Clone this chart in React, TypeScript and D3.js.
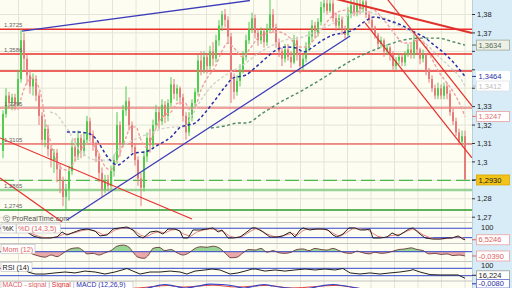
import React from 'react';
import * as d3 from 'd3';

// ---------- DATA ----------
const firstOpen = 1.306;
const closes = [
  1.326,1.336,1.332,1.335,1.331,1.345,1.366,1.356,1.347,1.341,
  1.345,1.336,1.325,1.312,1.318,1.307,1.301,1.305,1.296,1.290,
  1.281,1.285,1.295,1.308,1.303,1.313,1.306,1.312,1.322,1.315,
  1.309,1.303,1.294,1.285,1.290,1.287,1.295,1.301,1.320,1.310,
  1.328,1.333,1.320,1.308,1.301,1.291,1.286,1.303,1.313,1.309,
  1.320,1.327,1.322,1.331,1.325,1.332,1.342,1.337,1.340,1.335,
  1.325,1.316,1.324,1.332,1.338,1.355,1.350,1.357,1.352,1.360,
  1.356,1.366,1.374,1.380,1.377,1.368,1.345,1.338,1.344,1.350,
  1.357,1.366,1.372,1.378,1.370,1.366,1.371,1.365,1.372,1.380,
  1.373,1.365,1.360,1.356,1.361,1.357,1.354,1.366,1.358,1.352,
  1.356,1.362,1.368,1.374,1.370,1.376,1.384,1.386,1.382,1.386,
  1.378,1.374,1.378,1.372,1.369,1.380,1.385,1.381,1.386,1.383,
  1.387,1.380,1.377,1.373,1.369,1.364,1.366,1.360,1.362,1.358,
  1.352,1.355,1.357,1.354,1.358,1.361,1.358,1.366,1.361,1.356,
  1.358,1.350,1.345,1.340,1.336,1.340,1.336,1.341,1.337,1.327,
  1.322,1.316,1.311,1.314,1.2905
];
const highs = [
  1.328,1.340,1.338,1.337,1.337,1.350,1.372,1.370,1.358,1.350,
  1.348,1.347,1.338,1.327,1.322,1.320,1.309,1.307,1.307,1.299,
  1.292,1.288,1.298,1.312,1.313,1.317,1.315,1.316,1.325,1.324,
  1.317,1.311,1.305,1.297,1.293,1.293,1.298,1.304,1.327,1.322,
  1.331,1.341,1.335,1.322,1.310,1.303,1.294,1.306,1.316,1.318,
  1.323,1.331,1.330,1.334,1.333,1.334,1.346,1.345,1.342,1.341,
  1.337,1.327,1.327,1.334,1.340,1.358,1.360,1.360,1.359,1.363,
  1.365,1.369,1.377,1.382,1.383,1.379,1.370,1.348,1.347,1.353,
  1.360,1.369,1.376,1.381,1.380,1.372,1.373,1.372,1.375,1.388,
  1.383,1.375,1.367,1.362,1.364,1.364,1.360,1.369,1.368,1.360,
  1.358,1.365,1.371,1.377,1.376,1.378,1.387,1.389,1.389,1.389,
  1.388,1.381,1.380,1.379,1.374,1.384,1.388,1.388,1.388,1.388,
  1.389,1.388,1.382,1.378,1.374,1.370,1.368,1.367,1.364,1.363,
  1.360,1.357,1.359,1.359,1.360,1.364,1.364,1.371,1.368,1.362,
  1.361,1.359,1.351,1.347,1.342,1.343,1.342,1.343,1.343,1.339,
  1.329,1.324,1.318,1.317,1.317
];
const lows = [
  1.302,1.324,1.329,1.328,1.328,1.330,1.343,1.350,1.342,1.337,
  1.336,1.333,1.320,1.309,1.308,1.303,1.297,1.294,1.289,1.283,
  1.276,1.274,1.279,1.293,1.300,1.301,1.302,1.303,1.310,1.311,
  1.306,1.300,1.289,1.281,1.283,1.284,1.285,1.292,1.299,1.303,
  1.308,1.325,1.317,1.305,1.298,1.287,1.276,1.284,1.300,1.305,
  1.307,1.318,1.318,1.320,1.321,1.322,1.330,1.334,1.333,1.331,
  1.322,1.312,1.314,1.322,1.330,1.336,1.347,1.348,1.348,1.350,
  1.352,1.354,1.363,1.371,1.373,1.364,1.332,1.334,1.336,1.341,
  1.348,1.355,1.364,1.370,1.367,1.363,1.364,1.362,1.363,1.370,
  1.370,1.362,1.357,1.352,1.354,1.355,1.351,1.353,1.355,1.348,
  1.350,1.354,1.360,1.365,1.367,1.368,1.374,1.381,1.380,1.381,
  1.376,1.371,1.372,1.369,1.367,1.368,1.378,1.379,1.379,1.380,
  1.381,1.378,1.375,1.371,1.367,1.361,1.362,1.357,1.358,1.355,
  1.350,1.350,1.353,1.352,1.352,1.357,1.356,1.356,1.359,1.353,
  1.354,1.347,1.343,1.338,1.334,1.334,1.334,1.334,1.334,1.325,
  1.320,1.314,1.309,1.309,1.2902
];

// moving averages: [bar index, price]
const maPink = [
  [5,1.3282],[7.3,1.3407],[9.7,1.3455],[11.3,1.3428],[13,1.3336],[14,1.3228],[15.7,1.3119],
  [17.3,1.3027],[19,1.2973],[21.3,1.2956],[24.7,1.3027],[26.7,1.3081],[29,1.3103],[31.3,1.3065],
  [33.3,1.2994],[35.7,1.2956],[38,1.3010],[40.7,1.3119],[42.7,1.3190],[44.3,1.3190],[46,1.3119],
  [47.7,1.3081],[49.3,1.3119],[51.7,1.3211],[54,1.3255],[56,1.3271],[58.3,1.3320],[60.7,1.3320],
  [62.3,1.3282],[64,1.3298],[66,1.3390],[68.3,1.3461],[70.7,1.3515],[72.7,1.3591],[75,1.3645],
  [76.7,1.3624],[80,1.3569],[82,1.3607],[85.3,1.3678],[88.7,1.3700],[92,1.3705],[95.3,1.3678],
  [98.7,1.3624],[101,1.3624],[104.3,1.3678],[107.7,1.3754],[111,1.3808],[114.3,1.3824],
  [117.7,1.3808],[120.3,1.3841],[123.7,1.3824],[127,1.3770],[130.3,1.3700],[133.7,1.3645],
  [136,1.3645],[138,1.3662],[140.3,1.3645],[142.7,1.3569],[145.3,1.3488],[148,1.3428],
  [150.3,1.3374],[152.7,1.3298],[154,1.3247]
];
const maGrey = [
  [15.7,1.3271],[18,1.3255],[20,1.3211],[21.7,1.3173],[24.7,1.3081],[27.3,1.3038],[31.3,1.3010],
  [35.7,1.3010],[38.3,1.3065],[41.7,1.3103],[45,1.3130],[49.3,1.3157],[54,1.3184],[58.3,1.3190],
  [60.7,1.3190],[62.7,1.3244],[66,1.3336],[69.3,1.3407],[72.7,1.3455],[76,1.3488],[78.3,1.3510],
  [81,1.3537],[84.3,1.3580],[88.7,1.3624],[94.3,1.3662],[100,1.3678],[105.3,1.3716],[111,1.3759],
  [115.3,1.3797],[117,1.3808],[121.3,1.3814],[127,1.3781],[131.3,1.3743],[136,1.3705],
  [140.3,1.3651],[144.7,1.3580],[149.3,1.3510],[152.7,1.3450],[154,1.3412]
];
const maBlue = [
  [21.3,1.3162],[24.7,1.3162],[28,1.3157],[31.3,1.3119],[33.3,1.3065],[35.7,1.3010],[38.3,1.2983],
  [40.7,1.3010],[44,1.3049],[47.3,1.3054],[51.7,1.3092],[56,1.3135],[59.3,1.3190],[61.7,1.3200],
  [64,1.3211],[67.3,1.3266],[70.7,1.3336],[74,1.3407],[76.7,1.3455],[81,1.3472],[84.3,1.3515],
  [87.7,1.3564],[91,1.3607],[94.3,1.3624],[97.7,1.3618],[100.3,1.3597],[103.3,1.3624],
  [106.7,1.3662],[110,1.3689],[113.3,1.3700],[116.7,1.3716],[120.3,1.3759],[123.7,1.3786],
  [128,1.3770],[132.7,1.3743],[137,1.3705],[140.3,1.3678],[143.7,1.3634],[147,1.3591],
  [150.3,1.3537],[154,1.3464]
];
const maGreen = [
  [69.3,1.3184],[74,1.3195],[78.3,1.3211],[81,1.3211],[86.7,1.3266],[92,1.3320],[100,1.3390],
  [106.7,1.3455],[112,1.3510],[117.7,1.3564],[121.3,1.3591],[128,1.3634],[133.7,1.3662],
  [139.3,1.3672],[144.7,1.3672],[150.3,1.3651],[154,1.3634]
];

// drawn trend lines: [index, price] -> [index, price]
const trendLines = [
  { a: [6.3, 1.3710], b: [82.3, 1.3876], color: '#3d3db8', w: 1.3 },
  { a: [21.3, 1.2685], b: [115.7, 1.3683], color: '#3d3db8', w: 1.3 },
  { a: [-1, 1.3130], b: [63, 1.2690], color: '#e8302c', w: 1.2 },
  { a: [-1, 1.2913], b: [19.7, 1.2674], color: '#e8302c', w: 1.2 },
  { a: [99, 1.3933], b: [156.3, 1.3700], color: '#e0302c', w: 2 },
  { a: [125.7, 1.3933], b: [156.3, 1.3304], color: '#e8302c', w: 1.2 },
  { a: [120.7, 1.3754], b: [156.3, 1.3022], color: '#e8302c', w: 1.2 },
];

const levelPrices = [1.3720, 1.3586, 1.3493, 1.3293, 1.3097, 1.2900, 1.2848, 1.2739];
const levelLabels = ['1,3725', '1,3586', '', '1,3295', '1,3105', '', '1,2865', '1,2745'];
const levelStyles = [
  { c: '#e8302c', w: 1.4, o: 1, d: '' },
  { c: '#e8302c', w: 1.4, o: 1, d: '' },
  { c: '#e8302c', w: 1.4, o: 1, d: '' },
  { c: '#e8585a', w: 2.2, o: 0.55, d: '' },
  { c: '#e8302c', w: 1.1, o: 1, d: '' },
  { c: '#4cb84c', w: 1.3, o: 1, d: '14 5' },
  { c: '#7fc87f', w: 2.6, o: 0.8, d: '' },
  { c: '#2a9a2a', w: 1.4, o: 1, d: '' },
];

const priceTicks = [1.27, 1.28, 1.29, 1.30, 1.31, 1.32, 1.33, 1.34, 1.35, 1.36, 1.37, 1.38];
const priceTickLabels = ['1,27', '1,28', '1,29', '1,3', '1,31', '1,32', '1,33', '1,34', '1,35', '1,36', '1,37', '1,38'];

const valueBoxes = [
  { v: 1.3634, text: '1,3634', fg: '#4f6b55', bg: '#eef0e6', border: '#9aa89a' },
  { v: 1.3464, text: '1,3464', fg: '#2b2fa8', bg: '#ffffff', border: '#ffffff' },
  { v: 1.3412, text: '1,3412', fg: '#bdbdbd', bg: '#ffffff', border: '#e0e0e0' },
  { v: 1.3247, text: '1,3247', fg: '#e07070', bg: '#ffffff', border: '#e9a0a0' },
  { v: 1.2902, text: '1,2930', fg: '#222222', bg: '#f2c318', border: '#d9a800' },
];

// stochastic %K and %D: [index, value]
const stochK = [
  [8,56],[10,31],[12.3,18],[15.7,18],[18,24],[19.7,56],[21.3,37],[23,50],[25.7,69],[28,75],
  [30.7,62],[32.3,31],[34.7,37],[36.7,75],[39,82],[41.3,88],[43.3,69],[45,31],[46.7,18],[49,56],
  [51.3,62],[53.3,43],[55,75],[57.3,75],[59,62],[60,18],[61.7,18],[63.3,69],[65.7,69],[68,75],
  [70,82],[71.7,56],[73,69],[75,18],[76.7,18],[79,24],[81.3,56],[83,82],[84.3,82],[86.7,56],
  [89,24],[91.3,24],[93.3,31],[95.7,56],[97.3,24],[99,69],[100,82],[102.3,69],[104.3,75],
  [106.7,75],[108.3,69],[110,37],[111.3,24],[113.3,43],[115.3,82],[117.3,82],[119,69],
  [120.7,69],[122.3,75],[123.3,18],[125.7,18],[128,24],[129.7,50],[131.7,31],[133.3,50],
  [135.3,75],[136.7,82],[139,43],[140.7,18],[143.3,11],[145.7,11],[148,18],[149.7,18],
  [151.7,31],[153.3,11],[154,6.5]
];
const stochD = [
  [9,50],[11,35],[13,22],[16,19],[18.5,28],[20.5,45],[22,42],[24,52],[26.5,66],[29,72],
  [31.5,56],[33.5,38],[35.5,46],[37.5,70],[40,82],[42,84],[44,62],[46,35],[47.7,25],[50,48],
  [52,58],[54,50],[56,68],[58,73],[60,45],[62.5,28],[64.5,55],[67,70],[69,76],[71,72],
  [73.5,58],[75.5,30],[77.5,20],[80,30],[82,55],[84,76],[85.5,74],[87.5,48],[90,28],[92,26],
  [94,36],[96.5,48],[98,34],[100,65],[101.5,76],[103.5,72],[105.5,74],[107.5,72],[109,60],
  [111,38],[112.5,30],[114.5,52],[116.5,76],[118.5,78],[120,72],[121.5,71],[123.5,45],[125,28],
  [127,20],[129,32],[131,38],[132.5,42],[134.5,60],[136.5,75],[138,65],[140,38],[142,22],
  [144,14],[146.5,12],[149,16],[151,24],[152.5,24],[154,12]
];
const momentum = [
  [9.7,-0.02],[12,-0.04],[14,-0.05],[16,-0.03],[18,-0.045],[19.7,-0.02],[21.3,0.01],[23,0.03],
  [25,0.035],[26.7,0.01],[28,-0.02],[30,-0.015],[32,-0.03],[34,-0.01],[36,0.01],[38,0.05],
  [40,0.06],[42,0.04],[43.5,-0.01],[45,-0.05],[47,-0.06],[48.5,-0.03],[50,0.03],[52,0.04],
  [54,0.01],[56,0.02],[58,-0.01],[60,-0.03],[62,-0.01],[64,0.03],[66,0.045],[68,0.04],
  [70,0.05],[72,0.035],[74,-0.01],[76,-0.055],[78,-0.05],[80,-0.01],[82,0.02],[84,0.015],
  [86,0.03],[88,-0.005],[90,0.01],[92,-0.01],[94,-0.015],[96,-0.005],[98,0.02],[100,0.025],
  [102,0.01],[104,0.03],[106,0.02],[108,0.015],[110,0.03],[112,0.01],[114,-0.01],[116,-0.015],
  [118,0.005],[120,-0.01],[122,-0.02],[124,-0.005],[126,-0.015],[128,-0.01],[130,0.005],
  [132,0.02],[134,0.025],[136,0.035],[138,0.02],[140,0.01],[142,-0.02],[144,-0.015],
  [146,-0.025],[148,-0.02],[150,-0.035],[152,-0.03],[154,-0.039]
];
const rsi = [
  [8.3,50],[10.7,39],[14,39],[17.3,45],[20.7,50],[24,45],[27.3,55],[30.7,50],[34,39],[37.3,50],
  [39.7,61],[41.3,69],[43.3,55],[45.7,39],[49,50],[52.3,50],[55.7,55],[59,50],[61.3,39],[64,55],
  [67.3,61],[69.7,66],[72.3,61],[75.7,39],[78.3,45],[80.7,55],[83,66],[84.3,66],[87.3,55],
  [90.7,61],[94,55],[97.3,61],[100.7,66],[104,61],[107.3,66],[110.7,61],[113.3,69],[115.7,45],
  [119,39],[122.3,45],[125.7,39],[129,45],[132.3,50],[135.7,58],[136.7,63],[139,50],[142.3,36],
  [145.7,34],[149,34],[151.7,34],[154,16.2]
];
const macd = [
  [20,0.002],[30,0.003],[40,0.004],[46,0.003],[51,0.006],[54,0.0075],[57,0.006],[61,0.004],
  [65,0.006],[69,0.0078],[73,0.0075],[77,0.006],[80,0.004],[84,0.006],[87,0.0075],[90,0.006],
  [95,0.004],[100,0.003],[106,0.006],[110,0.0075],[114,0.006],[118,0.004],[125,0.0],
  [135,-0.004],[145,-0.007],[154,-0.008]
];
const macdSignal = [
  [22,0.002],[45,0.004],[55,0.0065],[60,0.005],[70,0.0068],[78,0.005],[88,0.0066],[96,0.004],
  [111,0.0066],[120,0.003],[140,-0.004],[154,-0.007]
];

// ---------- LAYOUT ----------
const W = 512, H = 288, PR = 472, MB = 222;
const x = d3.scaleLinear().domain([0, closes.length - 1]).range([3, 465]);
const y = d3.scaleLinear().domain([1.27, 1.38]).range([217.2, 14.5]);
const yK = d3.scaleLinear().domain([0, 100]).range([240.8, 225.1]);
const yM = d3.scaleLinear().domain([-0.06, 0.06]).range([258.3, 245.1]);
const yR = d3.scaleLinear().domain([30, 70]).range([275.7, 268.3]);
const yC = d3.scaleLinear().domain([0, 0.01]).range([292, 282]);
const gridX = d3.range(20).map(k => 18.5 + 23.5 * k);
const FONT = 'Liberation Sans, Arial, sans-serif';

export default function App() {
  const opens = closes.map((c, i) => (i === 0 ? firstOpen : closes[i - 1]));
  const mk = (ys: any) => d3.line<any>().x(d => x(d[0])).y(d => ys(d[1])).curve(d3.curveMonotoneX);
  const lin = (ys: any) => d3.line<any>().x(d => x(d[0])).y(d => ys(d[1]));
  const momArea = d3.area<any>().x(d => x(d[0])).y0(yM(0)).y1(d => yM(d[1])).curve(d3.curveMonotoneX);
  const boxYs = valueBoxes.map(b => y(b.v));

  const box = (yy: number, text: string, fg: string, bg: string, border: string, key: string, h = 10) => (
    <g key={key}>
      <line x1={PR} x2={476} y1={yy} y2={yy} stroke={fg} strokeWidth={1} />
      <rect x={476.5} y={yy - h / 2} width={33} height={h} fill={bg} stroke={border} strokeWidth={0.8} />
      <text x={478.5} y={yy + 2.6} fontSize={7.5} fill={fg} fontFamily={FONT}>{text}</text>
    </g>
  );

  return (
    <svg width={W} height={H} style={{ position: 'fixed', left: 0, top: 0, background: '#fdfdf2' }}>
      <defs>
        <clipPath id="cm"><rect x={0} y={0} width={PR} height={MB} /></clipPath>
        <clipPath id="ck"><rect x={0} y={223} width={PR} height={20} /></clipPath>
        <clipPath id="cmo"><rect x={0} y={244} width={PR} height={17} /></clipPath>
        <clipPath id="cmoUp"><rect x={0} y={244} width={PR} height={yM(0) - 244} /></clipPath>
        <clipPath id="cmoDn"><rect x={0} y={yM(0)} width={PR} height={261 - yM(0)} /></clipPath>
        <clipPath id="cr"><rect x={0} y={262} width={PR} height={18} /></clipPath>
        <clipPath id="cc"><rect x={0} y={281.5} width={PR} height={8} /></clipPath>
      </defs>
      <rect x={0} y={0} width={PR} height={H} fill="#fdfdf2" />

      {/* grid */}
      {gridX.map((gx, k) => (
        <line key={'gx' + k} x1={gx} x2={gx} y1={0} y2={H} stroke="#e4e4d8" strokeWidth={1} />
      ))}
      {priceTicks.map((p, k) => (
        <line key={'gy' + k} x1={0} x2={PR} y1={y(p)} y2={y(p)} stroke="#e4e4d8" strokeWidth={1} />
      ))}

      <g clipPath="url(#cm)">
        {levelPrices.map((p, k) => (
          <line key={'lv' + k} x1={0} x2={PR} y1={y(p)} y2={y(p)} stroke={levelStyles[k].c}
            strokeWidth={levelStyles[k].w} strokeOpacity={levelStyles[k].o}
            strokeDasharray={levelStyles[k].d || undefined} />
        ))}
        {closes.map((c, i) => {
          const o = opens[i];
          const up = c >= o;
          const col = up ? '#52cc52' : '#e67d7d';
          const hi = Math.max(highs[i], o, c), lo = Math.min(lows[i], o, c);
          const top = y(Math.max(o, c)), bot = y(Math.min(o, c));
          return (
            <g key={'c' + i}>
              <line x1={x(i)} x2={x(i)} y1={y(hi)} y2={y(lo)} stroke={col} strokeWidth={1} />
              <rect x={x(i) - 1} y={top} width={2} height={Math.max(1, bot - top)} fill={col} />
            </g>
          );
        })}
        <path d={mk(y)(maGrey) || ''} fill="none" stroke="#d2d2cc" strokeWidth={1.4} strokeDasharray="3 2" />
        <path d={mk(y)(maGreen) || ''} fill="none" stroke="#4e8a62" strokeWidth={1.4} strokeDasharray="3 2.5" />
        <path d={mk(y)(maPink) || ''} fill="none" stroke="#f0a0a0" strokeWidth={1.4} strokeDasharray="3 2" />
        <path d={mk(y)(maBlue) || ''} fill="none" stroke="#2b2fa8" strokeWidth={1.5} strokeDasharray="3 2.5" />
        {trendLines.map((t, k) => (
          <line key={'tl' + k} x1={x(t.a[0])} y1={y(t.a[1])} x2={x(t.b[0])} y2={y(t.b[1])}
            stroke={t.color} strokeWidth={t.w} />
        ))}
        {levelPrices.map((p, k) => levelLabels[k] ? (
          <text key={'ll' + k} x={4} y={y(p) - 2.2} fontSize={6} fill="#666" fontFamily={FONT}>{levelLabels[k]}</text>
        ) : null)}
        <text x={3} y={220.5} fontSize={7.2} fill="#555" fontFamily={FONT}>ⓒ ProRealTime.com</text>
      </g>

      {[222.5, 243.5, 261.5, 281].map((sy, k) => (
        <line key={'sp' + k} x1={0} x2={PR} y1={sy} y2={sy} stroke="#c4c4c0" strokeWidth={1} />
      ))}

      {/* stochastic */}
      <g clipPath="url(#ck)">
        <line x1={0} x2={PR} y1={yK(80)} y2={yK(80)} stroke="#3344cc" strokeWidth={1} />
        <line x1={0} x2={PR} y1={yK(20)} y2={yK(20)} stroke="#3344cc" strokeWidth={1} />
        <path d={lin(yK)(stochD) || ''} fill="none" stroke="#e88080" strokeWidth={1} />
        <path d={lin(yK)(stochK) || ''} fill="none" stroke="#222" strokeWidth={1} />
      </g>
      <rect x={1} y={224} width={15} height={9} fill="#fff" stroke="#bbb" strokeWidth={0.6} />
      <text x={2.5} y={231.3} fontSize={7.2} fill="#222" fontFamily={FONT}>%K</text>
      <rect x={16.5} y={224} width={44} height={9} fill="#fff" stroke="#bbb" strokeWidth={0.6} />
      <text x={18} y={231.3} fontSize={7.2} fill="#e06060" fontFamily={FONT}>%D (14,3,5)</text>

      {/* momentum */}
      <g clipPath="url(#cmo)">
        <path d={momArea(momentum) || ''} fill="#7ccb7c" fillOpacity={0.8} clipPath="url(#cmoUp)" />
        <path d={momArea(momentum) || ''} fill="#e8a0a0" fillOpacity={0.9} clipPath="url(#cmoDn)" />
        <line x1={0} x2={PR} y1={yM(0)} y2={yM(0)} stroke="#3344cc" strokeWidth={1} />
        <path d={mk(yM)(momentum) || ''} fill="none" stroke="#6a3a3a" strokeWidth={0.9} />
      </g>
      <rect x={1} y={244.5} width={34} height={9} fill="#fff" stroke="#bbb" strokeWidth={0.6} />
      <text x={2.5} y={251.8} fontSize={7.2} fill="#e06060" fontFamily={FONT}>Mom (12)</text>

      {/* RSI */}
      <g clipPath="url(#cr)">
        <line x1={0} x2={PR} y1={yR(70)} y2={yR(70)} stroke="#3344cc" strokeWidth={1} />
        <line x1={0} x2={PR} y1={yR(30)} y2={yR(30)} stroke="#3344cc" strokeWidth={1} />
        <path d={lin(yR)(rsi) || ''} fill="none" stroke="#222" strokeWidth={1} />
      </g>
      <rect x={1} y={262.5} width={31} height={9} fill="#fff" stroke="#bbb" strokeWidth={0.6} />
      <text x={2.5} y={269.8} fontSize={7.2} fill="#222" fontFamily={FONT}>RSI (14)</text>

      {/* MACD */}
      <g clipPath="url(#cc)">
        <path d={mk(yC)(macdSignal) || ''} fill="none" stroke="#e04040" strokeWidth={1} />
        <path d={mk(yC)(macd) || ''} fill="none" stroke="#3344cc" strokeWidth={1.2} />
      </g>
      <rect x={1} y={281.5} width={132} height={8} fill="#fff" stroke="#bbb" strokeWidth={0.6} />
      <text x={2.5} y={287.3} fontSize={6.8} fontFamily={FONT}>
        <tspan fill="#e06060">MACD - signal</tspan>
        <tspan fill="#999"> | </tspan>
        <tspan fill="#e03030">Signal</tspan>
        <tspan fill="#999"> | </tspan>
        <tspan fill="#2b2fa8">MACD (12,26,9)</tspan>
      </text>

      {/* right axis */}
      <rect x={PR} y={0} width={W - PR} height={H} fill="#d8ecf8" />
      <line x1={PR + 0.5} x2={PR + 0.5} y1={0} y2={H} stroke="#b8cfdd" strokeWidth={1} />
      {priceTicks.map((p, k) => {
        const ty = y(p);
        const hidden = boxYs.some(by => Math.abs(by - ty) < 8);
        return (
          <g key={'pt' + k}>
            <line x1={PR} x2={PR + 3} y1={ty} y2={ty} stroke="#333" strokeWidth={1} />
            {hidden ? null : (
              <text x={477} y={ty + 2.6} fontSize={7.5} fill="#222" fontFamily={FONT}>{priceTickLabels[k]}</text>
            )}
          </g>
        );
      })}
      {valueBoxes.map((b, k) => box(boxYs[k], b.text, b.fg, b.bg, b.border, 'vb' + k))}

      <text x={481} y={229.5} fontSize={7.5} fill="#222" fontFamily={FONT}>100</text>
      {box(yK(6.5246), '6,5246', '#e06060', '#fff', '#e9a0a0', 'bk')}
      {box(yM(-0.039), '-0,0390', '#e06060', '#fff', '#e9a0a0', 'bm')}
      <text x={481} y={267.8} fontSize={7.5} fill="#222" fontFamily={FONT}>100</text>
      {box(Math.min(yR(16.224), 275.3), '16,224', '#222', '#fff', '#999', 'br', 9)}
      {box(Math.min(yC(-0.008), 283.8), '-0,0080', '#2b2fa8', '#fff', '#6a70d0', 'bc', 8.4)}
    </svg>
  );
}
